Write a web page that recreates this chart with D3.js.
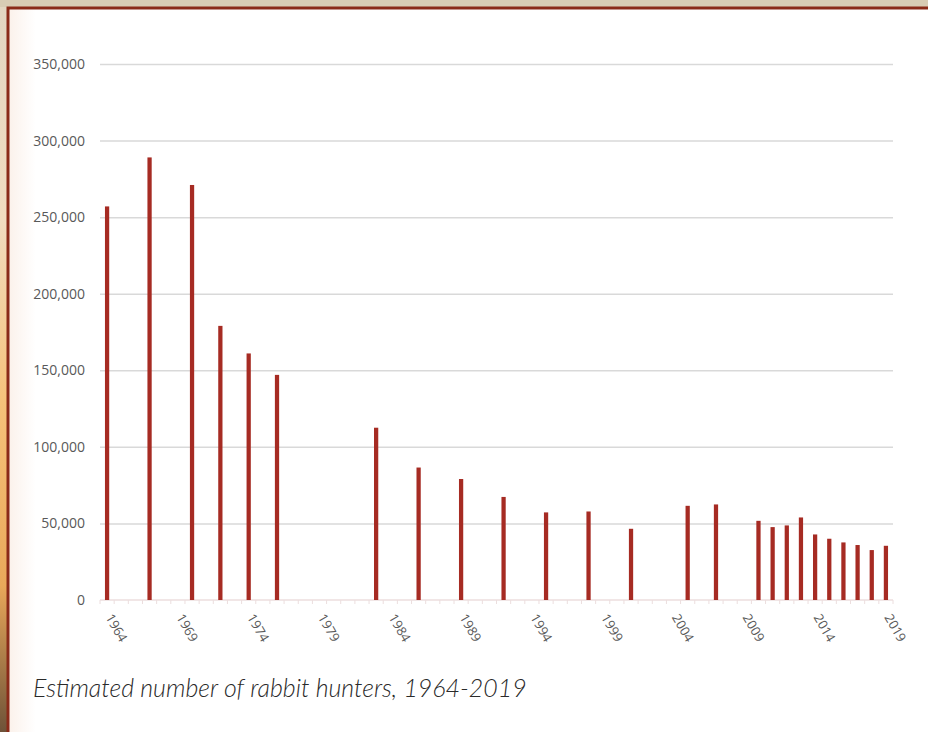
<!DOCTYPE html>
<html>
<head>
<meta charset="utf-8">
<script src="https://cdn.jsdelivr.net/npm/d3@7"></script>
<style>
  html, body { margin: 0; padding: 0; background: #fff; }
  svg { display: block; }
</style>
</head>
<body>
<svg id="chart" width="928" height="732"></svg>
<script>
// ---- data ----
const allYears = d3.range(1964, 2020);
const years = [1964, 1967, 1970, 1972, 1974, 1976, 1983, 1986, 1989, 1992, 1995, 1998, 2001, 2005, 2007, 2010, 2011, 2012, 2013, 2014, 2015, 2016, 2017, 2018, 2019];
const hunters = [257000, 289000, 271000, 179000, 161000, 147000, 112500, 86500, 79000, 67300, 57200, 57800, 46500, 61500, 62400, 51700, 47600, 48700, 53900, 42800, 40000, 37600, 35900, 32600, 35400];
const yTicks = [0, 50000, 100000, 150000, 200000, 250000, 300000, 350000];
const xLabelYears = [1964, 1969, 1974, 1979, 1984, 1989, 1994, 1999, 2004, 2009, 2014, 2019];
const caption = "Estimated number of rabbit hunters, 1964-2019";

const W = 928, H = 732;
const svg = d3.select("#chart");
const defs = svg.append("defs");

// background (photo-like frame)
const gL = defs.append("linearGradient").attr("id", "bgLeft").attr("x1", 0).attr("y1", 0).attr("x2", 0).attr("y2", 1);
gL.append("stop").attr("offset", "0%").attr("stop-color", "#e2d6c2");
gL.append("stop").attr("offset", "30%").attr("stop-color", "#f1dcc0");
gL.append("stop").attr("offset", "55%").attr("stop-color", "#f6c27a");
gL.append("stop").attr("offset", "80%").attr("stop-color", "#e9a85a");
gL.append("stop").attr("offset", "100%").attr("stop-color", "#6e5238");
svg.append("rect").attr("x", 0).attr("y", 0).attr("width", W).attr("height", H).attr("fill", "url(#bgLeft)");
svg.append("rect").attr("x", 0).attr("y", 0).attr("width", W).attr("height", 7).attr("fill", "#d8ccb4");

// white panel with dark red border
const inner = defs.append("linearGradient").attr("id", "panelGrad").attr("x1", 0).attr("y1", 0).attr("x2", 1).attr("y2", 0);
inner.append("stop").attr("offset", "0%").attr("stop-color", "#fbf1ea");
inner.append("stop").attr("offset", "3%").attr("stop-color", "#ffffff");
inner.append("stop").attr("offset", "100%").attr("stop-color", "#ffffff");
svg.append("rect").attr("x", 8).attr("y", 8).attr("width", W).attr("height", H)
  .attr("fill", "url(#panelGrad)").attr("stroke", "#8a2a18").attr("stroke-width", 3);

// scales
const x = d3.scaleBand().domain(allYears).range([100, 893]).paddingInner(0.7).paddingOuter(0.35);
const y = d3.scaleLinear().domain([0, 350000]).range([600, 64]);

// gridlines + y labels
const yAxis = d3.axisLeft(y).tickValues(yTicks).tickSize(-(893 - 100)).tickFormat(d3.format(","));
const gy = svg.append("g").attr("transform", "translate(100,0)").call(yAxis);
gy.select(".domain").remove();
gy.selectAll(".tick line").attr("stroke", "#d9d9d9").attr("stroke-width", 1.5)
  .filter(d => d === 0).remove();
gy.selectAll(".tick text").attr("x", -15)
  .attr("font-family", "'Open Sans', 'Noto Sans', sans-serif").attr("font-size", 14)
  .attr("fill", "#595959");

// x axis baseline with minor ticks
const axisColor = "#ecdede";
svg.append("line").attr("x1", 100).attr("x2", 893).attr("y1", 600).attr("y2", 600)
  .attr("stroke", axisColor).attr("stroke-width", 1.5);
const edges = allYears.map(d => x(d) - x.step() * x.paddingInner() / 2).concat([893]);
svg.append("g").selectAll("line").data(edges).join("line")
  .attr("x1", d => d).attr("x2", d => d).attr("y1", 600).attr("y2", 604)
  .attr("stroke", axisColor).attr("stroke-width", 1);

// bars
svg.append("g").selectAll("rect").data(years.map((yr, i) => ({ yr, v: hunters[i] }))).join("rect")
  .attr("x", d => x(d.yr)).attr("width", x.bandwidth())
  .attr("y", d => y(d.v)).attr("height", d => y(0) - y(d.v))
  .attr("fill", "#a62b23");

// x labels
svg.append("g").selectAll("text").data(xLabelYears).join("text")
  .attr("transform", d => `translate(${x(d) + x.bandwidth() / 2 + 2},${615}) rotate(60)`)
  .attr("text-anchor", "start").attr("dy", "0.35em")
  .attr("font-family", "'Open Sans', 'Noto Sans', sans-serif").attr("font-size", 13)
  .attr("fill", "#595959")
  .text(d => d);

// caption
const cap = svg.append("text").attr("x", 33).attr("y", 697)
  .attr("font-family", "Lato, 'Open Sans', sans-serif").attr("font-style", "italic").attr("font-weight", 300)
  .attr("font-size", 20).attr("fill", "#2a2a2a").text(caption);
const len = cap.node().getComputedTextLength();
cap.attr("font-size", 20 * 494 / len);
</script>
</body>
</html>
